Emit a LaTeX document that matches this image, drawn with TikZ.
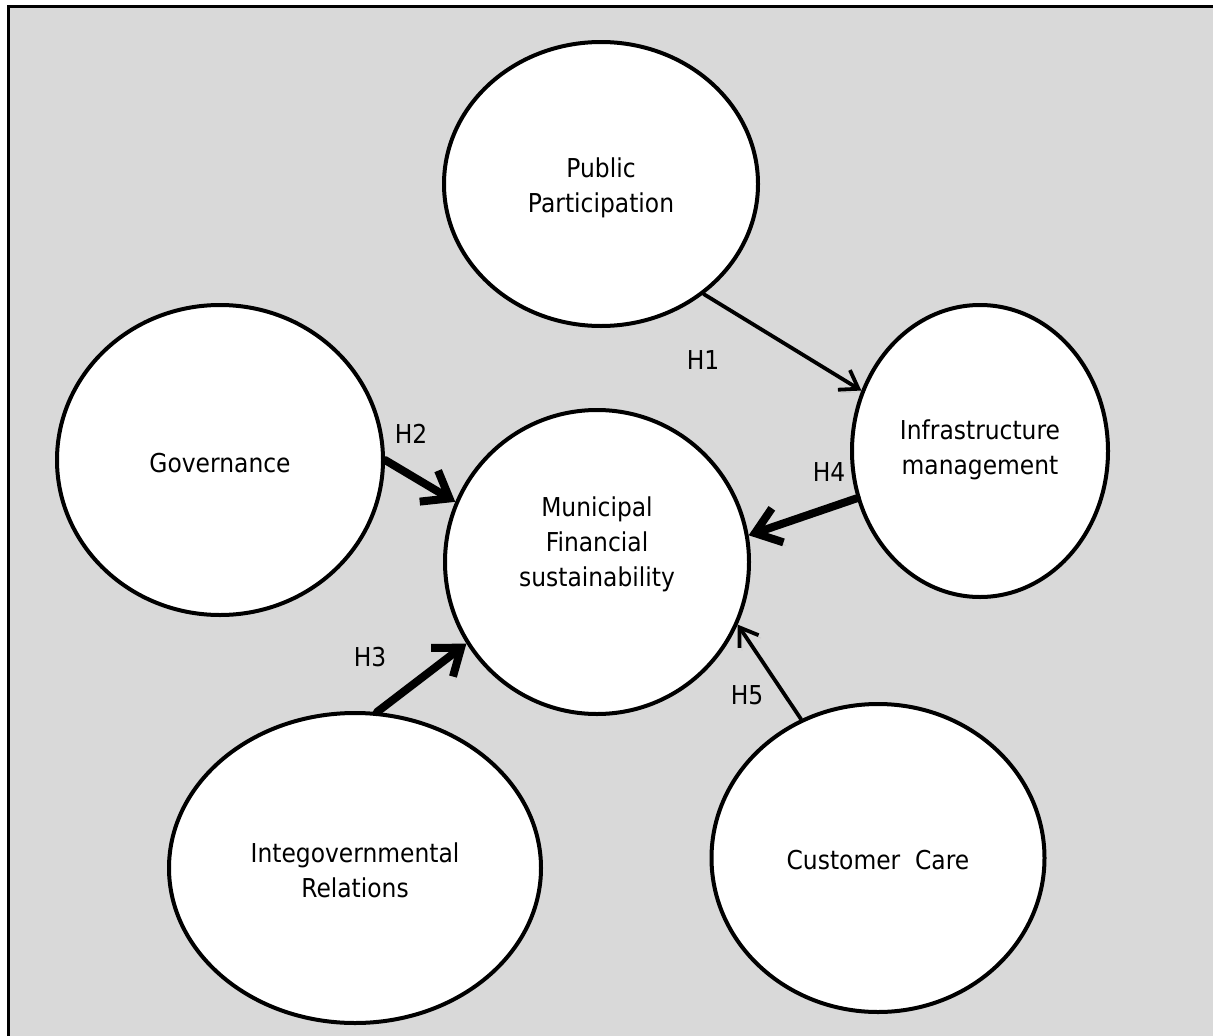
\documentclass[tikz,border=0pt]{standalone}
\usepackage{fontspec}
\setmainfont{DejaVu Sans}[FakeStretch=0.9]
\usetikzlibrary{arrows.meta,shapes.geometric}
\definecolor{bggray}{HTML}{D9D9D9}
\newcommand{\bubtext}[2]{\raisebox{#1}[0pt][0pt]{\begin{tabular}{@{}c@{}}#2\end{tabular}}}
\begin{document}
\begin{tikzpicture}[x=1pt,y=-1pt,
  bubble/.style={ellipse, draw=black, fill=white, line width=4pt, inner sep=0pt,
    font=\fontsize{26}{35}\selectfont},
  hlabel/.style={inner sep=0pt, font=\fontsize{26}{35}\selectfont},
  shadowed/.style={preaction={draw=black, opacity=0.13,
    transform canvas={shift={(2.5pt,-3pt)}}}},
  thinarrow/.style={line width=3.8pt, line cap=round,
    -{Straight Barb[length=17pt,width=23pt]}, shadowed},
  thickarrow/.style={line width=8pt, line cap=round,
    -{Straight Barb[length=24pt,width=36pt]}, shadowed}
]
\useasboundingbox (0,0) rectangle (1213,1036);
% background panel and frame
\fill[bggray] (8,6.5) rectangle (1213,1036);
\draw[line width=3pt] (8,1036) -- (8,6.5) -- (1213,6.5);

% bubbles
\node[bubble, minimum width=314pt, minimum height=284pt] (pp) at (601,184)
  {\bubtext{-9.75pt}{Public\\Participation}};
\node[bubble, minimum width=326pt, minimum height=310pt] (gov) at (220,460)
  {\bubtext{-11.25pt}{Governance}};
\node[bubble, minimum width=304pt, minimum height=304pt] (mfs) at (597,562)
  {\bubtext{11pt}{Municipal\\Financial\\sustainability}};
\node[bubble, minimum width=256pt, minimum height=292pt] (im) at (980,451)
  {\bubtext{-4.75pt}{Infrastructure\\management}};
\node[bubble, minimum width=372pt, minimum height=310pt] (igr) at (355,868)
  {\bubtext{-10.75pt}{Integovernmental\\Relations}};
\node[bubble, minimum width=333pt, minimum height=308pt] (cc) at (878,858)
  {\bubtext{-10.25pt}{Customer\ \ Care}};

% connectors
\draw[thinarrow] (pp.-47) -- (im.153);
\draw[thickarrow] (gov.0) -- (mfs.157.4);
\draw[thickarrow] (igr.82.5) -- (mfs.-148.5);
\draw[thickarrow] (im.-159.6) -- (mfs.10.3);
\draw[thinarrow] (cc.119.1) -- (mfs.-24.6);

% labels
\node[hlabel] (h1) at (703,360.5) {H1};
\node[hlabel] (h2) at (411,433.5) {H2};
\node[hlabel] (h3) at (370,657.5) {H3};
\node[hlabel] (h4) at (829,472.5) {H4};
\node[hlabel] (h5) at (747,695.5) {H5};
\end{tikzpicture}
\end{document}
